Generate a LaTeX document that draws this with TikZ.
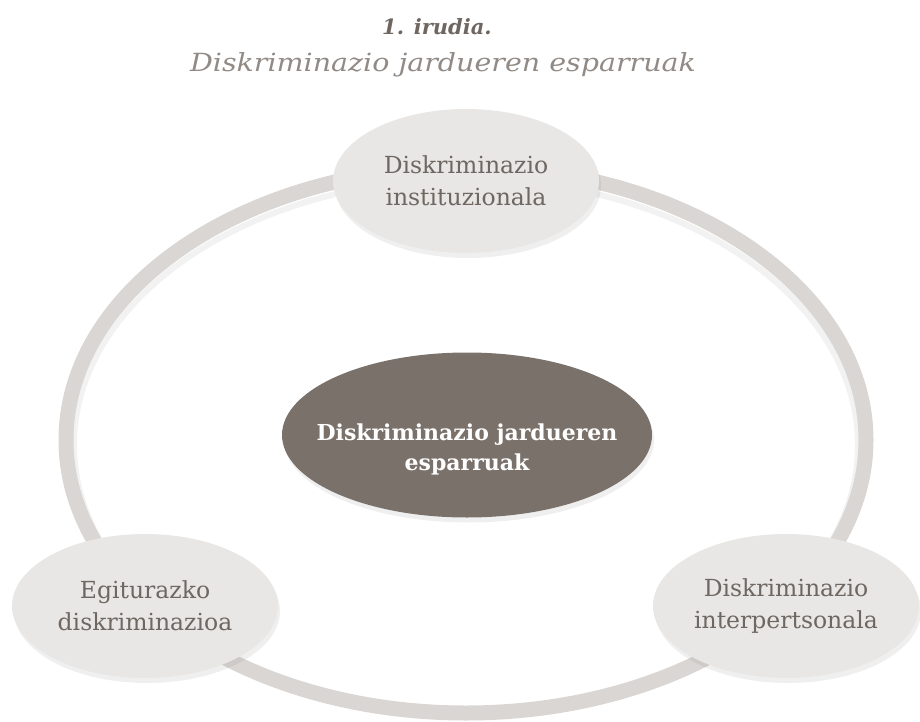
\documentclass[tikz,border=0pt]{standalone}
\usepackage{fontspec}
\setmainfont{DejaVu Serif}
\newfontfamily\titlefont{DejaVu Serif}[FakeStretch=1.14]
\usetikzlibrary{shapes.geometric,shadows}
\definecolor{ringc}{HTML}{DAD6D3}
\definecolor{lightfill}{HTML}{E8E7E5}
\definecolor{darkfill}{HTML}{7A716B}
\definecolor{txt}{HTML}{6F6761}
\definecolor{titlea}{HTML}{6F6661}
\definecolor{titleb}{HTML}{918A85}
\begin{document}
\begin{tikzpicture}[x=1pt,y=-1pt,
  softshadow/.style={drop shadow={shadow xshift=2pt,shadow yshift=-5pt,opacity=0.10,fill=black!60}},
  sidebox/.style={ellipse,fill=lightfill,minimum width=266pt,minimum height=144pt,inner sep=0pt,
     align=center,text=txt,font=\fontsize{23.5}{32}\selectfont,softshadow},
  hubbox/.style={ellipse,fill=darkfill,minimum width=370pt,minimum height=165pt,inner sep=0pt,softshadow},
  hubtext/.style={align=center,text=white,font=\bfseries\fontsize{22}{30}\selectfont,inner sep=0pt},
  ringline/.style={draw=ringc,line width=15pt}]
\useasboundingbox (0,0) rectangle (920,722);
% ring
\draw[black,opacity=0.05,line width=6pt] (466,445) ellipse [x radius=392, y radius=266];
\draw[ringline] (466,440) ellipse [x radius=400, y radius=273];
% title
\node[anchor=base,text=titlea,font=\bfseries\itshape\fontsize{21}{24}\selectfont] (t1) at (437,35) {1. irudia.};
\node[anchor=base,text=titleb,font=\titlefont\itshape\fontsize{25}{28}\selectfont] (t2) at (443,72) {Diskriminazio jardueren esparruak};
% nodes
\node[hubbox,label={[hubtext,yshift=-14pt]center:{Diskriminazio jardueren\\esparruak}}] (hub) at (467,435) {};
\node[sidebox] (inst) at (466,181) {Diskriminazio\\instituzionala};
\node[sidebox] (egit) at (145,606) {Egiturazko\\diskriminazioa};
\node[sidebox] (inter) at (786,606) {Diskriminazio\\interpertsonala};
\end{tikzpicture}
\end{document}
